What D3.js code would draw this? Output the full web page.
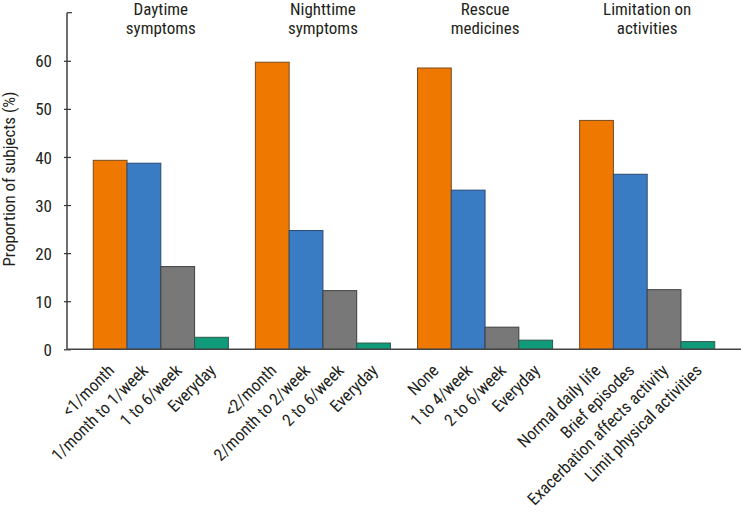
<!DOCTYPE html>
<html>
<head>
<meta charset="utf-8">
<script src="https://cdn.jsdelivr.net/npm/d3@7"></script>
<style>
  html, body { margin: 0; padding: 0; background: #fff; }
  svg { display: block; }
  text { font-family: "Liberation Sans Narrow", "Roboto Condensed", "DejaVu Sans Condensed", "Arial Narrow", sans-serif; fill: #231f20; }
</style>
</head>
<body>
<svg id="chart" width="741" height="514"></svg>
<script>
// ---- data ----
const groups = ["Daytime symptoms", "Nighttime symptoms", "Rescue medicines", "Limitation on activities"];
const groupTitles = [["Daytime", "symptoms"], ["Nighttime", "symptoms"], ["Rescue", "medicines"], ["Limitation on", "activities"]];
const levels = ["L1", "L2", "L3", "L4"];
const categoryLabels = [
  ["<1/month", "1/month to 1/week", "1 to 6/week", "Everyday"],
  ["<2/month", "2/month to 2/week", "2 to 6/week", "Everyday"],
  ["None", "1 to 4/week", "2 to 6/week", "Everyday"],
  ["Normal daily life", "Brief episodes", "Exacerbation affects activity", "Limit physical activities"]
];
const values = [
  [39.3, 38.7, 17.2, 2.5],
  [59.7, 24.7, 12.2, 1.3],
  [58.5, 33.1, 4.6, 1.9],
  [47.6, 36.4, 12.4, 1.6]
];
const yTicks = [0, 10, 20, 30, 40, 50, 60];
const yLabel = "Proportion of subjects (%)";
const colors = ["#EF7800", "#3A7CC3", "#787878", "#0F9A7A"];
const strokes = ["#7a4a1e", "#2b4a72", "#3f3f3f", "#2f5a4a"];

// ---- layout ----
const svg = d3.select("#chart");
const axisX = 67, baseY = 349.3, topY = 12.7;
const fs = 17;

const y = d3.scaleLinear().domain([0, 70]).range([baseY, topY]);
const x0 = d3.scaleBand().domain(groups).range([axisX, 741]).paddingInner(1/6).paddingOuter(0.162);
const x1 = d3.scaleBand().domain(levels).range([0, x0.bandwidth()]);

// bars
const g = svg.append("g");
groups.forEach((grp, gi) => {
  const gg = g.append("g").attr("transform", `translate(${x0(grp)},0)`);
  gg.selectAll("rect").data(values[gi]).join("rect")
    .attr("x", (d, i) => x1(levels[i]))
    .attr("y", d => y(d))
    .attr("width", x1.bandwidth())
    .attr("height", d => y(0) - y(d))
    .attr("fill", (d, i) => colors[i])
    .attr("stroke", (d, i) => strokes[i])
    .attr("stroke-width", 1);
});

// y axis
const yAxis = d3.axisLeft(y).tickValues(yTicks).tickSizeInner(-5).tickSizeOuter(0).tickPadding(15);
const ya = svg.append("g").attr("transform", `translate(${axisX},0)`).call(yAxis);
ya.select(".domain").remove();
ya.attr("font-family", null).attr("font-size", null);
ya.selectAll(".tick line").attr("x1", -3).attr("x2", 4).attr("stroke", "#333").attr("stroke-width", 1.2);
ya.selectAll(".tick text").attr("font-size", fs).attr("dy", "0.36em");
svg.append("line").attr("x1", axisX).attr("x2", axisX).attr("y1", y(70)).attr("y2", baseY)
  .attr("stroke", "#333").attr("stroke-width", 1.4);
svg.append("line").attr("x1", axisX).attr("x2", axisX + 5).attr("y1", y(70)).attr("y2", y(70))
  .attr("stroke", "#333").attr("stroke-width", 1.2);

// x axis baseline
svg.append("line").attr("x1", axisX).attr("x2", 741).attr("y1", baseY).attr("y2", baseY)
  .attr("stroke", "#444").attr("stroke-width", 1.4);

// y label
svg.append("text")
  .attr("transform", `translate(15,179) rotate(-90)`)
  .attr("text-anchor", "middle").attr("font-size", fs).text(yLabel);

// group titles
groups.forEach((grp, gi) => {
  const cx = x0(grp) + x0.bandwidth() / 2;
  const t = svg.append("text").attr("text-anchor", "middle").attr("font-size", fs);
  groupTitles[gi].forEach((line, li) => {
    t.append("tspan").attr("x", cx).attr("y", 15 + li * 19).text(line);
  });
});

// category labels
groups.forEach((grp, gi) => {
  categoryLabels[gi].forEach((lab, li) => {
    const cx = x0(grp) + x1(levels[li]) + x1.bandwidth() / 2;
    svg.append("text")
      .attr("transform", `translate(${cx + 1},${baseY + 18}) rotate(-45)`)
      .attr("text-anchor", "end").attr("font-size", fs).attr("dy", "0.35em")
      .text(lab);
  });
});
</script>
</body>
</html>
